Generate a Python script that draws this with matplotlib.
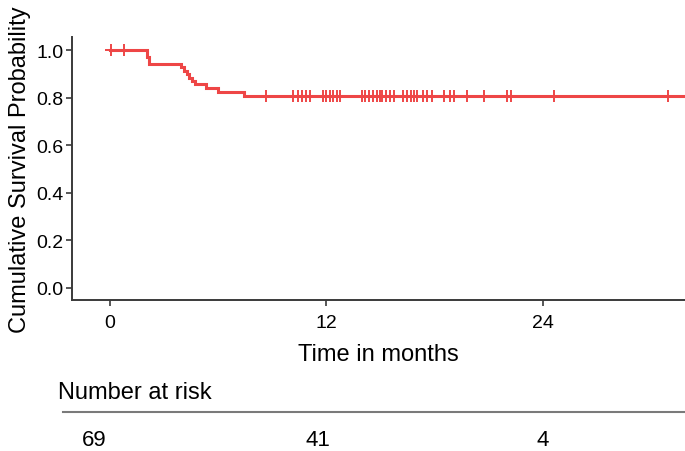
import numpy as np
import matplotlib
matplotlib.use("Agg")
import matplotlib.pyplot as plt

plt.rcParams['font.family'] = ['Liberation Sans', 'DejaVu Sans']

# ---- data ----
event_times = [2.05, 2.15, 3.95, 4.1, 4.25, 4.4, 4.55, 4.7, 5.3, 6.0, 7.45]
surv_after = [0.971, 0.942, 0.928, 0.913, 0.899, 0.884, 0.870, 0.856, 0.840, 0.823, 0.806]
follow_up_end = 33.0
censor_times = [0.05, 0.8, 8.65, 10.16, 10.4, 10.65, 10.88, 11.1, 11.83, 12.0, 12.2,
                12.38, 12.57, 12.75, 13.95, 14.13, 14.37, 14.6, 14.8, 14.97, 15.1,
                15.3, 15.5, 15.75, 16.26, 16.45, 16.7, 16.85, 17.0, 17.37, 17.6,
                17.83, 18.5, 18.85, 19.07, 19.8, 20.73, 22.03, 22.2, 24.6, 30.95]
x_ticks = [0, 12, 24]
y_ticks = [0.0, 0.2, 0.4, 0.6, 0.8, 1.0]
risk_times = [0, 12, 24]
risk_counts = [69, 41, 4]

color = '#EE4646'
W, H = 685, 452
fig = plt.figure(figsize=(W / 100, H / 100), dpi=100)

def fx(px):
    return px / W

def fy(py):
    return 1 - py / H

# main panel
ax = fig.add_axes([fx(72), fy(301), fx(685) - fx(72), fy(38) - fy(301)])
step_t = [0] + event_times + [follow_up_end]
step_s = [1.0] + surv_after + [surv_after[-1]]
ax.step(step_t, step_s, where='post', color=color, lw=2.2, solid_joinstyle='miter')

def surv_at(t):
    s = 1.0
    for et, sv in zip(event_times, surv_after):
        if et <= t:
            s = sv
    return s

cs = [surv_at(t) for t in censor_times]
ax.plot(censor_times, cs, ls='none', marker='+', ms=8, mew=1.4, color=color)

ax.set_xlim(-2.1, 31.87)
ax.set_ylim(-0.052, 1.056)
ax.set_xticks(x_ticks)
ax.set_xticklabels([str(v) for v in x_ticks])
ax.set_yticks(y_ticks)
ax.set_yticklabels([f"{v:.1f}" for v in y_ticks])
for s in ['top', 'right']:
    ax.spines[s].set_visible(False)
for s in ['left', 'bottom']:
    ax.spines[s].set_color('#3a3a3a')
    ax.spines[s].set_linewidth(1.4)
ax.tick_params(axis='both', colors='#3a3a3a', length=4, width=1.2, labelsize=14,
               labelcolor='black')
ax.tick_params(axis='y', pad=2)
ax.tick_params(axis='x', pad=6)
ax.set_xlabel('Time in months', fontsize=17, labelpad=9)
ax.set_ylabel('Cumulative Survival Probability', fontsize=17, labelpad=4)

# risk table
fig.text(fx(58), fy(393.5), 'Number at risk', fontsize=17, ha='left', va='center')
tax = fig.add_axes([fx(63), 0.0, fx(685) - fx(63), fy(413) - 0.0])
tax.set_xlim((63 - 94) / 18.7, (685 - 94) / 18.7)
tax.set_ylim(0, 1)
for s in ['bottom', 'left', 'right']:
    tax.spines[s].set_visible(False)
tax.spines['top'].set_color('#7a7a7a')
tax.spines['top'].set_linewidth(1.5)
tax.set_xticks([])
tax.set_yticks([])
for t, n in zip(risk_times, risk_counts):
    tax.text(t, (452 - 440.5) / 39, str(n), fontsize=16, ha='center', va='center')

fig.savefig('out.png', dpi=100)
